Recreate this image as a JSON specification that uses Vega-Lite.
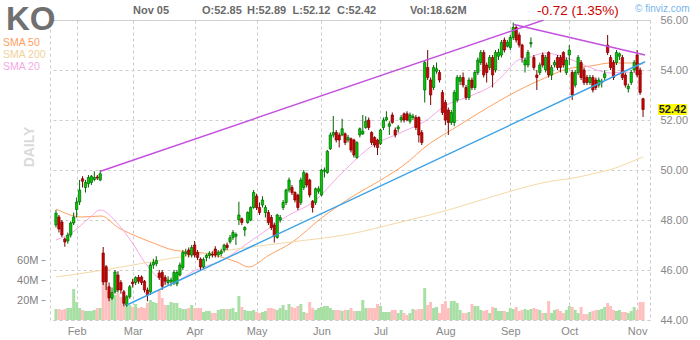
{
"$schema": "https://vega.github.io/schema/vega-lite/v6.json",
"width": 600, "height": 300,
"autosize": {"type": "none"},
"padding": {"left": 50, "top": 20, "right": 50, "bottom": 20},
"background": "white",
"config": {"font": "Liberation Sans", "view": {"stroke": "#cccccc", "strokeDash": [3,3]}},
"datasets": {
"bars": [
{"i":-7,"o":47.8,"h":48.4,"l":47.7,"c":48.27,"v":11},
{"i":-6,"o":48.12,"h":48.2,"l":47.5,"c":47.64,"v":11},
{"i":-5,"o":47.92,"h":48.0,"l":47.32,"c":47.4,"v":10},
{"i":-4,"o":47.24,"h":47.3,"l":46.93,"c":47.12,"v":11},
{"i":-3,"o":47.16,"h":47.5,"l":47.05,"c":47.4,"v":12},
{"i":-2,"o":47.4,"h":47.95,"l":47.3,"c":47.88,"v":12},
{"i":-1,"o":47.88,"h":48.3,"l":47.8,"c":48.12,"v":31},
{"i":0,"o":48.42,"h":48.9,"l":48.1,"c":48.72,"v":18},
{"i":1,"o":48.72,"h":49.6,"l":48.6,"c":49.2,"v":12},
{"i":2,"o":49.65,"h":49.75,"l":49.3,"c":49.55,"v":10},
{"i":3,"o":49.3,"h":49.6,"l":49.1,"c":49.5,"v":9},
{"i":4,"o":49.45,"h":49.8,"l":49.3,"c":49.7,"v":9},
{"i":5,"o":49.5,"h":49.8,"l":49.4,"c":49.75,"v":9},
{"i":6,"o":49.62,"h":49.95,"l":49.55,"c":49.7,"v":10},
{"i":7,"o":49.72,"h":49.8,"l":49.6,"c":49.68,"v":12},
{"i":8,"o":49.6,"h":50.0,"l":49.55,"c":49.85,"v":12},
{"i":9,"o":46.68,"h":46.92,"l":45.4,"c":45.52,"v":47},
{"i":10,"o":46.13,"h":46.2,"l":45.2,"c":45.53,"v":38},
{"i":11,"o":45.33,"h":45.5,"l":44.75,"c":44.88,"v":30},
{"i":12,"o":44.88,"h":45.3,"l":44.8,"c":45.1,"v":27},
{"i":13,"o":45.12,"h":46.0,"l":45.05,"c":45.92,"v":25},
{"i":14,"o":45.8,"h":45.95,"l":45.1,"c":45.2,"v":27},
{"i":15,"o":45.5,"h":45.6,"l":45.05,"c":45.2,"v":23},
{"i":16,"o":45.13,"h":45.2,"l":44.55,"c":44.67,"v":23},
{"i":17,"o":44.6,"h":45.0,"l":44.53,"c":44.93,"v":17},
{"i":18,"o":44.93,"h":45.4,"l":44.85,"c":45.33,"v":15},
{"i":19,"o":45.52,"h":45.65,"l":45.3,"c":45.45,"v":13},
{"i":20,"o":45.5,"h":45.75,"l":45.4,"c":45.7,"v":16},
{"i":21,"o":45.7,"h":45.8,"l":45.45,"c":45.55,"v":12},
{"i":22,"o":45.72,"h":45.78,"l":45.4,"c":45.5,"v":13},
{"i":23,"o":45.55,"h":45.6,"l":45.1,"c":45.2,"v":12},
{"i":24,"o":45.2,"h":45.3,"l":44.75,"c":45.0,"v":17},
{"i":25,"o":45.13,"h":46.3,"l":45.0,"c":46.2,"v":20},
{"i":26,"o":46.2,"h":46.45,"l":46.05,"c":46.3,"v":18},
{"i":27,"o":46.25,"h":46.55,"l":46.15,"c":46.38,"v":17},
{"i":28,"o":45.88,"h":46.0,"l":45.6,"c":45.7,"v":30},
{"i":29,"o":45.9,"h":46.0,"l":45.2,"c":45.35,"v":22},
{"i":30,"o":45.7,"h":45.8,"l":45.4,"c":45.55,"v":15},
{"i":31,"o":45.5,"h":45.75,"l":45.4,"c":45.6,"v":15},
{"i":32,"o":45.55,"h":45.7,"l":45.35,"c":45.6,"v":18},
{"i":33,"o":45.5,"h":46.0,"l":45.4,"c":45.9,"v":17},
{"i":34,"o":45.45,"h":46.0,"l":45.35,"c":45.9,"v":17},
{"i":35,"o":45.8,"h":46.3,"l":45.75,"c":46.2,"v":12},
{"i":36,"o":46.1,"h":46.8,"l":46.0,"c":46.7,"v":11},
{"i":37,"o":46.65,"h":46.85,"l":46.55,"c":46.72,"v":11},
{"i":38,"o":46.8,"h":46.9,"l":46.5,"c":46.62,"v":12},
{"i":39,"o":46.6,"h":47.0,"l":46.5,"c":46.9,"v":15},
{"i":40,"o":47.0,"h":47.16,"l":46.5,"c":46.6,"v":12},
{"i":41,"o":46.7,"h":46.8,"l":46.4,"c":46.5,"v":12},
{"i":42,"o":46.44,"h":46.5,"l":46.0,"c":46.12,"v":12},
{"i":43,"o":46.12,"h":46.5,"l":46.05,"c":46.42,"v":8},
{"i":44,"o":46.5,"h":46.65,"l":46.35,"c":46.58,"v":9},
{"i":45,"o":46.58,"h":46.75,"l":46.45,"c":46.66,"v":9},
{"i":46,"o":46.64,"h":46.75,"l":46.5,"c":46.6,"v":7},
{"i":47,"o":46.84,"h":46.95,"l":46.5,"c":46.6,"v":7},
{"i":48,"o":46.6,"h":46.8,"l":46.5,"c":46.7,"v":10},
{"i":49,"o":46.66,"h":46.85,"l":46.55,"c":46.75,"v":11},
{"i":50,"o":46.8,"h":47.05,"l":46.7,"c":47.0,"v":11},
{"i":51,"o":47.0,"h":47.1,"l":46.8,"c":46.9,"v":11},
{"i":52,"o":47.13,"h":47.4,"l":47.05,"c":47.29,"v":11},
{"i":53,"o":47.3,"h":47.6,"l":47.2,"c":47.5,"v":12},
{"i":54,"o":47.35,"h":47.5,"l":47.0,"c":47.42,"v":8},
{"i":55,"o":48.0,"h":48.73,"l":47.8,"c":48.2,"v":24},
{"i":56,"o":48.05,"h":48.1,"l":47.8,"c":47.9,"v":13},
{"i":57,"o":47.6,"h":47.75,"l":47.35,"c":47.7,"v":10},
{"i":58,"o":47.9,"h":48.35,"l":47.85,"c":48.3,"v":9},
{"i":59,"o":48.0,"h":48.55,"l":47.95,"c":48.5,"v":9},
{"i":60,"o":48.5,"h":49.2,"l":48.45,"c":49.1,"v":10},
{"i":61,"o":48.95,"h":49.05,"l":48.4,"c":48.5,"v":8},
{"i":62,"o":48.5,"h":48.7,"l":48.2,"c":48.3,"v":7},
{"i":63,"o":48.6,"h":48.95,"l":48.5,"c":48.8,"v":8},
{"i":64,"o":48.3,"h":48.6,"l":48.1,"c":48.5,"v":9},
{"i":65,"o":48.3,"h":48.4,"l":47.8,"c":47.9,"v":12},
{"i":66,"o":48.1,"h":48.2,"l":47.6,"c":47.7,"v":12},
{"i":67,"o":47.8,"h":47.9,"l":47.1,"c":47.35,"v":11},
{"i":68,"o":47.3,"h":48.25,"l":47.25,"c":48.2,"v":10},
{"i":69,"o":48.0,"h":48.2,"l":47.9,"c":48.1,"v":12},
{"i":70,"o":48.5,"h":48.8,"l":48.4,"c":48.7,"v":15},
{"i":71,"o":48.7,"h":49.25,"l":48.6,"c":49.2,"v":10},
{"i":72,"o":49.2,"h":49.7,"l":49.1,"c":49.6,"v":16},
{"i":73,"o":49.3,"h":49.4,"l":49.0,"c":49.1,"v":13},
{"i":74,"o":49.1,"h":49.15,"l":48.7,"c":48.8,"v":12},
{"i":75,"o":49.0,"h":49.05,"l":48.4,"c":48.5,"v":14},
{"i":76,"o":48.7,"h":49.7,"l":48.6,"c":49.6,"v":16},
{"i":77,"o":49.3,"h":50.0,"l":49.2,"c":49.9,"v":8},
{"i":78,"o":49.85,"h":49.9,"l":49.3,"c":49.4,"v":7},
{"i":79,"o":49.6,"h":49.65,"l":48.9,"c":49.0,"v":18},
{"i":80,"o":48.75,"h":48.8,"l":48.3,"c":48.5,"v":12},
{"i":81,"o":48.7,"h":49.3,"l":48.6,"c":49.25,"v":10},
{"i":82,"o":49.15,"h":49.35,"l":49.05,"c":49.25,"v":12},
{"i":83,"o":49.0,"h":50.05,"l":48.95,"c":50.0,"v":13},
{"i":84,"o":49.95,"h":50.1,"l":49.7,"c":50.0,"v":14},
{"i":85,"o":49.9,"h":50.8,"l":49.85,"c":50.75,"v":14},
{"i":86,"o":50.85,"h":51.5,"l":50.8,"c":51.4,"v":12},
{"i":87,"o":51.4,"h":52.16,"l":51.3,"c":51.5,"v":10},
{"i":88,"o":51.5,"h":51.6,"l":51.1,"c":51.2,"v":10},
{"i":89,"o":51.4,"h":51.5,"l":50.9,"c":51.2,"v":10},
{"i":90,"o":51.4,"h":52.05,"l":51.35,"c":51.65,"v":9},
{"i":91,"o":51.45,"h":51.5,"l":51.0,"c":51.1,"v":10},
{"i":92,"o":51.2,"h":51.4,"l":51.1,"c":51.3,"v":10},
{"i":93,"o":51.25,"h":51.3,"l":50.7,"c":50.8,"v":12},
{"i":94,"o":51.2,"h":51.25,"l":50.5,"c":50.6,"v":9},
{"i":95,"o":50.5,"h":51.15,"l":50.45,"c":51.1,"v":9},
{"i":96,"o":51.4,"h":51.7,"l":51.3,"c":51.65,"v":9},
{"i":97,"o":51.45,"h":52.2,"l":51.4,"c":51.55,"v":20},
{"i":98,"o":51.7,"h":52.15,"l":51.65,"c":51.95,"v":12},
{"i":99,"o":52.0,"h":52.1,"l":51.6,"c":51.7,"v":12},
{"i":100,"o":51.5,"h":51.55,"l":51.0,"c":51.1,"v":12},
{"i":101,"o":51.3,"h":51.35,"l":50.9,"c":51.0,"v":12},
{"i":102,"o":51.2,"h":51.25,"l":50.6,"c":50.9,"v":16},
{"i":103,"o":51.05,"h":51.65,"l":51.0,"c":51.6,"v":14},
{"i":104,"o":51.7,"h":52.1,"l":51.6,"c":52.0,"v":8},
{"i":105,"o":52.0,"h":52.35,"l":51.95,"c":52.1,"v":8},
{"i":106,"o":51.75,"h":51.95,"l":51.4,"c":51.85,"v":8},
{"i":107,"o":52.2,"h":52.3,"l":51.85,"c":51.9,"v":10},
{"i":108,"o":51.6,"h":51.7,"l":51.3,"c":51.4,"v":10},
{"i":109,"o":51.65,"h":51.8,"l":51.5,"c":51.72,"v":7},
{"i":110,"o":52.0,"h":52.2,"l":51.9,"c":52.1,"v":10},
{"i":111,"o":52.25,"h":52.3,"l":51.9,"c":52.0,"v":7},
{"i":112,"o":52.25,"h":52.35,"l":51.95,"c":52.0,"v":5},
{"i":113,"o":51.95,"h":52.3,"l":51.85,"c":52.2,"v":7},
{"i":114,"o":52.1,"h":52.25,"l":52.0,"c":52.15,"v":11},
{"i":115,"o":52.1,"h":52.2,"l":51.6,"c":51.7,"v":10},
{"i":116,"o":52.1,"h":52.15,"l":51.1,"c":51.4,"v":11},
{"i":117,"o":51.5,"h":51.6,"l":51.0,"c":51.1,"v":11},
{"i":118,"o":53.2,"h":54.4,"l":52.7,"c":54.3,"v":32},
{"i":119,"o":54.1,"h":54.8,"l":53.6,"c":53.7,"v":15},
{"i":120,"o":53.6,"h":53.7,"l":52.6,"c":53.0,"v":18},
{"i":121,"o":53.3,"h":54.2,"l":53.2,"c":54.1,"v":12},
{"i":122,"o":53.95,"h":54.3,"l":53.85,"c":54.05,"v":13},
{"i":123,"o":53.9,"h":54.0,"l":53.5,"c":53.6,"v":7},
{"i":124,"o":53.1,"h":53.2,"l":52.2,"c":52.3,"v":16},
{"i":125,"o":52.7,"h":52.8,"l":51.8,"c":52.0,"v":19},
{"i":126,"o":52.4,"h":52.5,"l":51.4,"c":51.9,"v":12},
{"i":127,"o":51.9,"h":52.4,"l":51.8,"c":52.3,"v":19},
{"i":128,"o":51.9,"h":53.2,"l":51.75,"c":53.1,"v":19},
{"i":129,"o":52.8,"h":53.8,"l":52.7,"c":53.7,"v":17},
{"i":130,"o":53.55,"h":53.8,"l":53.4,"c":53.7,"v":10},
{"i":131,"o":53.7,"h":53.9,"l":53.3,"c":53.4,"v":7},
{"i":132,"o":53.3,"h":53.4,"l":52.8,"c":52.9,"v":7},
{"i":133,"o":52.9,"h":53.7,"l":52.8,"c":53.6,"v":8},
{"i":134,"o":53.6,"h":53.7,"l":53.2,"c":53.3,"v":16},
{"i":135,"o":53.3,"h":54.0,"l":53.2,"c":53.9,"v":14},
{"i":136,"o":53.9,"h":54.5,"l":53.8,"c":54.4,"v":14},
{"i":137,"o":54.3,"h":54.8,"l":54.2,"c":54.7,"v":10},
{"i":138,"o":54.7,"h":54.8,"l":53.7,"c":53.8,"v":9},
{"i":139,"o":54.2,"h":54.3,"l":53.5,"c":53.9,"v":10},
{"i":140,"o":54.1,"h":54.6,"l":54.0,"c":54.5,"v":7},
{"i":141,"o":54.5,"h":54.6,"l":53.3,"c":53.8,"v":13},
{"i":142,"o":54.0,"h":54.8,"l":53.9,"c":54.7,"v":12},
{"i":143,"o":54.55,"h":54.85,"l":54.4,"c":54.7,"v":9},
{"i":144,"o":54.6,"h":55.2,"l":54.5,"c":55.1,"v":9},
{"i":145,"o":55.2,"h":55.3,"l":54.7,"c":54.8,"v":9},
{"i":146,"o":54.95,"h":55.2,"l":54.9,"c":55.1,"v":8},
{"i":147,"o":54.9,"h":55.4,"l":54.8,"c":55.3,"v":12},
{"i":148,"o":55.3,"h":55.9,"l":55.2,"c":55.7,"v":11},
{"i":149,"o":55.7,"h":55.8,"l":55.1,"c":55.2,"v":13},
{"i":150,"o":55.4,"h":55.5,"l":54.9,"c":55.0,"v":9},
{"i":151,"o":55.0,"h":55.05,"l":54.3,"c":54.5,"v":10},
{"i":152,"o":54.2,"h":54.5,"l":53.9,"c":54.4,"v":11},
{"i":153,"o":54.2,"h":54.8,"l":54.1,"c":54.7,"v":10},
{"i":154,"o":55.05,"h":55.3,"l":54.9,"c":55.1,"v":11},
{"i":155,"o":54.5,"h":54.6,"l":54.0,"c":54.1,"v":12},
{"i":156,"o":53.8,"h":54.0,"l":53.2,"c":53.7,"v":11},
{"i":157,"o":53.9,"h":54.3,"l":53.8,"c":54.2,"v":10},
{"i":158,"o":54.6,"h":54.7,"l":54.1,"c":54.2,"v":7},
{"i":159,"o":54.0,"h":54.6,"l":53.9,"c":54.5,"v":7},
{"i":160,"o":54.7,"h":54.75,"l":53.7,"c":53.8,"v":19},
{"i":161,"o":53.8,"h":54.2,"l":53.6,"c":54.1,"v":7},
{"i":162,"o":54.2,"h":54.4,"l":54.1,"c":54.3,"v":10},
{"i":163,"o":54.5,"h":54.6,"l":54.0,"c":54.1,"v":11},
{"i":164,"o":54.5,"h":54.6,"l":53.9,"c":54.1,"v":9},
{"i":165,"o":54.7,"h":54.75,"l":54.1,"c":54.2,"v":7},
{"i":166,"o":53.9,"h":54.5,"l":53.8,"c":54.4,"v":10},
{"i":167,"o":54.6,"h":55.0,"l":54.2,"c":54.8,"v":14},
{"i":168,"o":53.9,"h":54.0,"l":52.8,"c":53.0,"v":13},
{"i":169,"o":53.4,"h":54.0,"l":53.3,"c":53.9,"v":10},
{"i":170,"o":53.9,"h":54.6,"l":53.8,"c":54.5,"v":7},
{"i":171,"o":54.3,"h":54.4,"l":53.6,"c":53.7,"v":13},
{"i":172,"o":54.0,"h":54.1,"l":53.4,"c":53.5,"v":6},
{"i":173,"o":53.7,"h":53.8,"l":53.4,"c":53.5,"v":6},
{"i":174,"o":53.5,"h":53.8,"l":53.4,"c":53.7,"v":8},
{"i":175,"o":53.7,"h":53.8,"l":53.1,"c":53.2,"v":9},
{"i":176,"o":53.6,"h":53.7,"l":53.2,"c":53.3,"v":10},
{"i":177,"o":53.4,"h":53.7,"l":53.3,"c":53.6,"v":10},
{"i":178,"o":53.5,"h":53.65,"l":53.3,"c":53.55,"v":11},
{"i":179,"o":53.7,"h":54.0,"l":53.6,"c":53.85,"v":13},
{"i":180,"o":55.0,"h":55.4,"l":54.6,"c":54.7,"v":17},
{"i":181,"o":54.5,"h":54.6,"l":54.0,"c":54.1,"v":14},
{"i":182,"o":54.3,"h":54.4,"l":53.6,"c":53.7,"v":10},
{"i":183,"o":54.3,"h":54.8,"l":54.2,"c":54.7,"v":9},
{"i":184,"o":54.55,"h":54.7,"l":54.4,"c":54.65,"v":10},
{"i":185,"o":54.5,"h":54.6,"l":53.6,"c":53.7,"v":8},
{"i":186,"o":53.8,"h":53.9,"l":53.3,"c":53.4,"v":8},
{"i":187,"o":53.25,"h":53.45,"l":53.1,"c":53.35,"v":7},
{"i":188,"o":53.5,"h":54.0,"l":53.4,"c":53.9,"v":9},
{"i":189,"o":54.0,"h":54.4,"l":53.9,"c":54.3,"v":13},
{"i":190,"o":54.6,"h":54.8,"l":53.7,"c":53.8,"v":10},
{"i":191,"o":54.0,"h":54.1,"l":53.0,"c":53.1,"v":18},
{"i":192,"o":52.85,"h":52.89,"l":52.12,"c":52.42,"v":18}
],
"sma": [
{"s":"SMA 50","i":-7,"p":48.44},{"s":"SMA 50","i":1.7,"p":48.12},{"s":"SMA 50","i":8.3,"p":48.16},{"s":"SMA 50","i":14.3,"p":47.68},{"s":"SMA 50","i":18.3,"p":47.45},{"s":"SMA 50","i":26,"p":47.08},{"s":"SMA 50","i":32.7,"p":46.8},{"s":"SMA 50","i":42.7,"p":46.68},{"s":"SMA 50","i":54.3,"p":46.32},{"s":"SMA 50","i":58.3,"p":46.12},{"s":"SMA 50","i":65.3,"p":46.6},{"s":"SMA 50","i":72.7,"p":47.08},{"s":"SMA 50","i":83,"p":48.08},{"s":"SMA 50","i":94.3,"p":49.0},{"s":"SMA 50","i":102,"p":49.52},{"s":"SMA 50","i":112.7,"p":50.36},{"s":"SMA 50","i":117.7,"p":50.88},{"s":"SMA 50","i":128.7,"p":51.72},{"s":"SMA 50","i":139.7,"p":52.52},{"s":"SMA 50","i":152,"p":53.32},{"s":"SMA 50","i":158.7,"p":53.68},{"s":"SMA 50","i":166.3,"p":54.04},{"s":"SMA 50","i":174.3,"p":54.16},{"s":"SMA 50","i":181,"p":54.28},{"s":"SMA 50","i":188.7,"p":54.28},{"s":"SMA 50","i":192,"p":54.24},
{"s":"SMA 20","i":-7,"p":47.2},{"s":"SMA 20","i":-1.3,"p":47.52},{"s":"SMA 20","i":4.3,"p":48.08},{"s":"SMA 20","i":8,"p":48.4},{"s":"SMA 20","i":14.3,"p":47.8},{"s":"SMA 20","i":18.7,"p":47.12},{"s":"SMA 20","i":23,"p":46.32},{"s":"SMA 20","i":27.7,"p":45.68},{"s":"SMA 20","i":30,"p":45.48},{"s":"SMA 20","i":33,"p":45.52},{"s":"SMA 20","i":40,"p":45.97},{"s":"SMA 20","i":50,"p":46.43},{"s":"SMA 20","i":60,"p":47.24},{"s":"SMA 20","i":72,"p":48.2},{"s":"SMA 20","i":80,"p":48.7},{"s":"SMA 20","i":90,"p":49.89},{"s":"SMA 20","i":100,"p":50.95},{"s":"SMA 20","i":110,"p":51.5},{"s":"SMA 20","i":118.7,"p":52.0},{"s":"SMA 20","i":124.3,"p":52.52},{"s":"SMA 20","i":134.3,"p":53.0},{"s":"SMA 20","i":141,"p":53.4},{"s":"SMA 20","i":145.3,"p":53.88},{"s":"SMA 20","i":149.7,"p":54.4},{"s":"SMA 20","i":152.7,"p":54.48},{"s":"SMA 20","i":158.7,"p":54.68},{"s":"SMA 20","i":165.3,"p":54.52},{"s":"SMA 20","i":172,"p":54.2},{"s":"SMA 20","i":176.3,"p":54.0},{"s":"SMA 20","i":181,"p":53.88},{"s":"SMA 20","i":185.3,"p":53.92},{"s":"SMA 20","i":192,"p":53.85},
{"s":"SMA 200","i":-7,"p":45.72},{"s":"SMA 200","i":9.3,"p":46.0},{"s":"SMA 200","i":32.7,"p":46.48},{"s":"SMA 200","i":59.3,"p":46.92},{"s":"SMA 200","i":72.7,"p":47.12},{"s":"SMA 200","i":92.7,"p":47.44},{"s":"SMA 200","i":109.3,"p":47.9},{"s":"SMA 200","i":126,"p":48.4},{"s":"SMA 200","i":142.7,"p":49.0},{"s":"SMA 200","i":159.3,"p":49.52},{"s":"SMA 200","i":170.3,"p":49.72},{"s":"SMA 200","i":176,"p":49.88},{"s":"SMA 200","i":181.7,"p":50.04},{"s":"SMA 200","i":187,"p":50.28},{"s":"SMA 200","i":192,"p":50.52}
],
"trend": [
{"t":"up","i":8.1,"p":49.95},{"t":"up","i":158.3,"p":56.0},
{"t":"down","i":148.3,"p":55.82},{"t":"down","i":192.7,"p":54.6},
{"t":"support","i":17,"p":44.6},{"t":"support","i":192.7,"p":54.33}
]
},
"layer": [
{
"data": {"name": "bars"},
"mark": {"type": "bar", "size": 3},
"encoding": {
"x": {"field": "i", "type": "quantitative", "scale": {"domain": [-7.333, 192.667], "nice": false, "zero": false},
"axis": {"orient": "bottom", "values": [0,19,40,61,83,103,125,147,167,190], "labelExpr": "['Feb','Mar','Apr','May','Jun','Jul','Aug','Sep','Oct','Nov'][indexof([0,19,40,61,83,103,125,147,167,190], datum.value)]", "grid": true, "gridDash": [3,3], "gridColor": "#cccccc", "domain": false, "ticks": false, "labelPadding": 5, "labelFontSize": 11, "labelColor": "#888888", "labelFlush": false, "labelOverlap": false, "title": null}},
"y": {"field": "v", "type": "quantitative", "scale": {"domain": [0, 300], "nice": false, "zero": true},
"axis": {"orient": "left", "values": [20,40,60], "labelExpr": "datum.value + 'M'", "grid": false, "domain": false, "ticks": true, "tickSize": 4, "tickColor": "#999999", "offset": 5, "labelPadding": 3, "labelFontSize": 11, "labelColor": "#808080", "title": null}},
"color": {"condition": {"test": "datum.c >= datum.o", "value": "#a8dfa5"}, "value": "#ffbfbf"}
}
},
{
"layer": [
{
"data": {"name": "sma"},
"mark": {"type": "line", "strokeWidth": 1, "interpolate": "monotone", "clip": true},
"encoding": {
"x": {"field": "i", "type": "quantitative", "scale": {"domain": [-7.333, 192.667], "nice": false, "zero": false},
"axis": {"orient": "bottom", "values": [0,19,40,61,83,103,125,147,167,190], "labelExpr": "['Feb','Mar','Apr','May','Jun','Jul','Aug','Sep','Oct','Nov'][indexof([0,19,40,61,83,103,125,147,167,190], datum.value)]", "grid": true, "gridDash": [3,3], "gridColor": "#cccccc", "domain": false, "ticks": false, "labelPadding": 5, "labelFontSize": 11, "labelColor": "#888888", "labelFlush": false, "labelOverlap": false, "title": null}},
"y": {"field": "p", "type": "quantitative", "scale": {"domain": [44, 56], "nice": false, "zero": false},
"axis": {"orient": "right", "values": [44,46,48,50,52,54,56], "format": ".2f", "grid": true, "gridDash": [3,3], "gridColor": "#cccccc", "ticks": false, "domain": false, "labelPadding": 10, "labelFontSize": 11, "labelColor": "#888888", "labelFlush": false, "labelOverlap": false, "title": null}},
"color": {"field": "s", "type": "nominal", "scale": {"domain": ["SMA 20","SMA 50","SMA 200"], "range": ["#f5a8e8","#ffa060","#f5d9a6"]}, "legend": null}
}
},
{
"data": {"name": "bars"},
"mark": {"type": "rule", "strokeWidth": 1},
"encoding": {
"x": {"field": "i", "type": "quantitative", "scale": {"domain": [-7.333, 192.667], "nice": false, "zero": false},
"axis": {"orient": "bottom", "values": [0,19,40,61,83,103,125,147,167,190], "labelExpr": "['Feb','Mar','Apr','May','Jun','Jul','Aug','Sep','Oct','Nov'][indexof([0,19,40,61,83,103,125,147,167,190], datum.value)]", "grid": true, "gridDash": [3,3], "gridColor": "#cccccc", "domain": false, "ticks": false, "labelPadding": 5, "labelFontSize": 11, "labelColor": "#888888", "labelFlush": false, "labelOverlap": false, "title": null}},
"y": {"field": "l", "type": "quantitative", "scale": {"domain": [44, 56], "nice": false, "zero": false},
"axis": {"orient": "right", "values": [44,46,48,50,52,54,56], "format": ".2f", "grid": true, "gridDash": [3,3], "gridColor": "#cccccc", "ticks": false, "domain": false, "labelPadding": 10, "labelFontSize": 11, "labelColor": "#888888", "labelFlush": false, "labelOverlap": false, "title": null}},
"y2": {"field": "h"},
"color": {"condition": {"test": "datum.c >= datum.o", "value": "#006600"}, "value": "#7a0000"}
}
},
{
"data": {"name": "bars"},
"mark": {"type": "bar", "size": 2.3, "strokeWidth": 0.7},
"encoding": {
"x": {"field": "i", "type": "quantitative", "scale": {"domain": [-7.333, 192.667], "nice": false, "zero": false},
"axis": {"orient": "bottom", "values": [0,19,40,61,83,103,125,147,167,190], "labelExpr": "['Feb','Mar','Apr','May','Jun','Jul','Aug','Sep','Oct','Nov'][indexof([0,19,40,61,83,103,125,147,167,190], datum.value)]", "grid": true, "gridDash": [3,3], "gridColor": "#cccccc", "domain": false, "ticks": false, "labelPadding": 5, "labelFontSize": 11, "labelColor": "#888888", "labelFlush": false, "labelOverlap": false, "title": null}},
"y": {"field": "o", "type": "quantitative", "scale": {"domain": [44, 56], "nice": false, "zero": false},
"axis": {"orient": "right", "values": [44,46,48,50,52,54,56], "format": ".2f", "grid": true, "gridDash": [3,3], "gridColor": "#cccccc", "ticks": false, "domain": false, "labelPadding": 10, "labelFontSize": 11, "labelColor": "#888888", "labelFlush": false, "labelOverlap": false, "title": null}},
"y2": {"field": "c"},
"fill": {"condition": {"test": "datum.c >= datum.o", "value": "#00cc00"}, "value": "#d20000"},
"stroke": {"condition": {"test": "datum.c >= datum.o", "value": "#006600"}, "value": "#7a0000"}
}
},
{
"data": {"name": "trend"},
"mark": {"type": "line", "strokeWidth": 1.4, "clip": true},
"encoding": {
"x": {"field": "i", "type": "quantitative", "scale": {"domain": [-7.333, 192.667], "nice": false, "zero": false},
"axis": {"orient": "bottom", "values": [0,19,40,61,83,103,125,147,167,190], "labelExpr": "['Feb','Mar','Apr','May','Jun','Jul','Aug','Sep','Oct','Nov'][indexof([0,19,40,61,83,103,125,147,167,190], datum.value)]", "grid": true, "gridDash": [3,3], "gridColor": "#cccccc", "domain": false, "ticks": false, "labelPadding": 5, "labelFontSize": 11, "labelColor": "#888888", "labelFlush": false, "labelOverlap": false, "title": null}},
"y": {"field": "p", "type": "quantitative", "scale": {"domain": [44, 56], "nice": false, "zero": false},
"axis": {"orient": "right", "values": [44,46,48,50,52,54,56], "format": ".2f", "grid": true, "gridDash": [3,3], "gridColor": "#cccccc", "ticks": false, "domain": false, "labelPadding": 10, "labelFontSize": 11, "labelColor": "#888888", "labelFlush": false, "labelOverlap": false, "title": null}},
"color": {"field": "t", "type": "nominal", "scale": {"domain": ["up","down","support"], "range": ["#c450e0","#c450e0","#3ca2e8"]}, "legend": null}
}
},
{
"data": {"values": [{"last": 52.42}]},
"layer": [
{"mark": {"type": "point", "shape": "M-1,-0.38H1V0.38H-1Z", "size": 841, "filled": true, "fill": "#ffff00", "opacity": 1, "strokeWidth": 0, "x": 622.5},
 "encoding": {"y": {"field": "last", "type": "quantitative", "scale": {"domain": [44, 56], "nice": false, "zero": false},
"axis": {"orient": "right", "values": [44,46,48,50,52,54,56], "format": ".2f", "grid": true, "gridDash": [3,3], "gridColor": "#cccccc", "ticks": false, "domain": false, "labelPadding": 10, "labelFontSize": 11, "labelColor": "#888888", "labelFlush": false, "labelOverlap": false, "title": null}}}},
{"mark": {"type": "text", "fontWeight": "bold", "fontSize": 11, "align": "center", "baseline": "middle", "fill": "#222222", "x": 622.5},
 "encoding": {"y": {"field": "last", "type": "quantitative", "scale": {"domain": [44, 56], "nice": false, "zero": false},
"axis": {"orient": "right", "values": [44,46,48,50,52,54,56], "format": ".2f", "grid": true, "gridDash": [3,3], "gridColor": "#cccccc", "ticks": false, "domain": false, "labelPadding": 10, "labelFontSize": 11, "labelColor": "#888888", "labelFlush": false, "labelOverlap": false, "title": null}}, "text": {"field": "last", "format": ".2f"}}}
]
}
],
"resolve": {"scale": {"color": "independent"}}
},
{
"data": {"values": [{}]},
"layer": [
{"mark": {"type": "text", "text": "KO", "x": -44, "y": 9.5, "align": "left", "baseline": "alphabetic", "fontSize": 33, "fontWeight": "bold", "fill": "#707070"}},
{"mark": {"type": "text", "text": "SMA 50", "x": -47, "y": 26, "align": "left", "baseline": "alphabetic", "fontSize": 10.5, "fill": "#ffa060"}},
{"mark": {"type": "text", "text": "SMA 200", "x": -47, "y": 38, "align": "left", "baseline": "alphabetic", "fontSize": 10.5, "fill": "#f2d29a"}},
{"mark": {"type": "text", "text": "SMA 20", "x": -47, "y": 50, "align": "left", "baseline": "alphabetic", "fontSize": 10.5, "fill": "#f5a8e8"}},
{"mark": {"type": "text", "text": "DAILY", "x": -20, "y": 127, "angle": 270, "align": "center", "baseline": "middle", "fontSize": 14, "fontWeight": "bold", "fill": "#dadada"}},
{"mark": {"type": "text", "text": "Nov 05", "x": 83, "y": -6, "align": "left", "baseline": "alphabetic", "fontSize": 11, "fontWeight": "bold", "fill": "#6a6a6a"}},
{"mark": {"type": "text", "text": "O:52.85", "x": 152, "y": -6, "align": "left", "baseline": "alphabetic", "fontSize": 11, "fontWeight": "bold", "fill": "#6a6a6a"}},
{"mark": {"type": "text", "text": "H:52.89", "x": 197, "y": -6, "align": "left", "baseline": "alphabetic", "fontSize": 11, "fontWeight": "bold", "fill": "#6a6a6a"}},
{"mark": {"type": "text", "text": "L:52.12", "x": 242.5, "y": -6, "align": "left", "baseline": "alphabetic", "fontSize": 11, "fontWeight": "bold", "fill": "#6a6a6a"}},
{"mark": {"type": "text", "text": "C:52.42", "x": 287, "y": -6, "align": "left", "baseline": "alphabetic", "fontSize": 11, "fontWeight": "bold", "fill": "#6a6a6a"}},
{"mark": {"type": "text", "text": "Vol:18.62M", "x": 360, "y": -6, "align": "left", "baseline": "alphabetic", "fontSize": 11, "fontWeight": "bold", "fill": "#6a6a6a"}},
{"mark": {"type": "text", "text": "-0.72 (1.35%)", "x": 487, "y": -5, "align": "left", "baseline": "alphabetic", "fontSize": 13.5, "fill": "#cc0000"}},
{"mark": {"type": "text", "text": "© finviz.com", "x": 585, "y": -8.5, "align": "left", "baseline": "alphabetic", "fontSize": 10, "fill": "#78b6ec"}}
]
}
],
"resolve": {"scale": {"y": "independent"}}
}
